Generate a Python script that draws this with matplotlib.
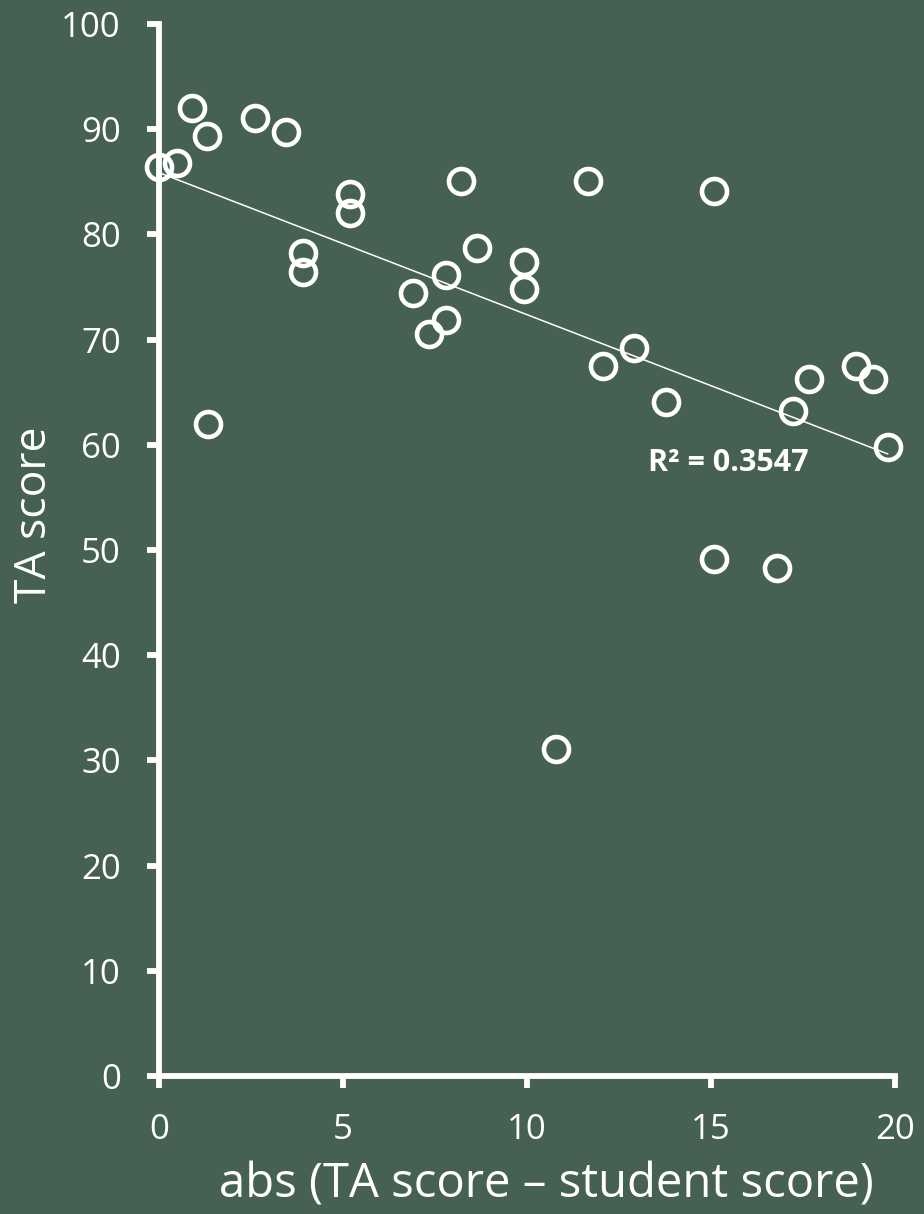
import numpy as np
import matplotlib
matplotlib.use("Agg")
import matplotlib.pyplot as plt

# abs(TA score - student score) vs TA score
abs_diff = [0.0, 0.49, 0.9, 1.3, 1.33, 2.6, 3.45, 3.9, 3.9, 5.2, 5.2,
            6.9, 7.34, 7.8, 7.8, 8.2, 8.64, 9.92, 9.92, 10.8, 11.66, 12.07,
            12.9, 13.78, 15.08, 15.08, 16.8, 17.23, 17.66, 18.94, 19.4, 19.8]
ta_score = [86.4, 86.8, 92.0, 89.4, 62.0, 91.1, 89.7, 78.2, 76.4, 83.8, 82.0,
            74.4, 70.5, 76.1, 71.9, 85.1, 78.7, 77.4, 74.8, 31.1, 85.1, 67.5,
            69.2, 64.1, 84.1, 49.1, 48.3, 63.2, 66.3, 67.5, 66.3, 59.8]
r2_label = "R\u00b2 = 0.3547"

bg = "#466152"
fg = "white"
plt.rcParams["font.family"] = ["Open Sans", "DejaVu Sans"]

fig = plt.figure(figsize=(9.24, 12.14), dpi=100, facecolor=bg)
ax = fig.add_axes([159 / 924, 1 - 1076 / 1214, (895 - 159) / 924, (1076 - 24) / 1214])
ax.set_facecolor(bg)

x = np.array(abs_diff)
y = np.array(ta_score)
m, b = np.polyfit(x, y, 1)
xs = np.array([x.min(), x.max()])
ax.plot(xs, m * xs + b, color=fg, lw=1.1, zorder=2)

ax.plot(x, y, "o", ms=18, mfc="none", mec=fg, mew=3.3, zorder=3, clip_on=False)

ax.text(13.3, 58.3, r2_label, color=fg, fontsize=22, fontweight="bold",
        ha="left", va="center")

ax.set_xlim(0, 20)
ax.set_ylim(0, 100)
ax.set_xticks(range(0, 21, 5))
ax.set_yticks(range(0, 101, 10))

for s in ["top", "right"]:
    ax.spines[s].set_visible(False)
for s in ["left", "bottom"]:
    ax.spines[s].set_color(fg)
    ax.spines[s].set_linewidth(4.2)
    ax.spines[s].set_capstyle("projecting")

ax.tick_params(colors=fg, labelcolor=fg, width=4.2, length=8.5, labelsize=25,
               direction="out")
ax.tick_params(axis="y", pad=19)
ax.tick_params(axis="x", pad=18)

ax.set_xlabel("abs (TA score \u2013 student score)", color=fg, fontsize=34, labelpad=10)
ax.set_ylabel("TA score", color=fg, fontsize=32, labelpad=3)
ax.xaxis.label.set_x((546 - 159) / 736)
ax.yaxis.label.set_y((1076 - 515) / 1052)

fig.savefig("out.png", dpi=100, facecolor=bg)
